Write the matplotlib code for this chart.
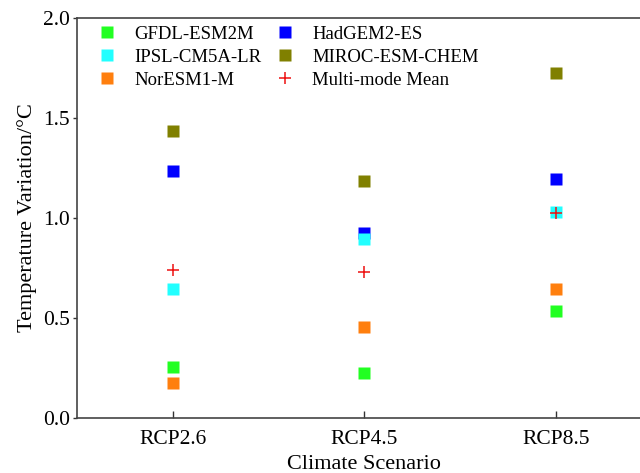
import matplotlib.pyplot as plt
import numpy as np

# ----------------------------
# Data
# ----------------------------
scenarios = ['RCP2.6', 'RCP4.5', 'RCP8.5']

gfdl = [0.255, 0.225, 0.535]
ipsl = [0.645, 0.895, 1.03]
noresm = [0.175, 0.455, 0.645]
hadgem = [1.235, 0.925, 1.195]
miroc = [1.435, 1.185, 1.725]
mean_vals = [0.74, 0.73, 1.025]

plt.rcParams['font.family'] = ['Liberation Serif', 'DejaVu Serif']

x = np.arange(1, len(scenarios) + 1)

fig = plt.figure(figsize=(6.4, 4.73), dpi=100)
ax = fig.add_axes([0.1203, 0.1163, 0.898, 0.8457])

ms = 8
ax.plot(x, gfdl, 's', color='#22ff22', ms=ms, mec='none', label='GFDL-ESM2M', zorder=3)
ax.plot(x, ipsl, 's', color='#22ffff', ms=ms, mec='none', label='IPSL-CM5A-LR', zorder=4)
ax.plot(x, noresm, 's', color='#ff7f0e', ms=ms, mec='none', label='NorESM1-M', zorder=3)
ax.plot(x, hadgem, 's', color='#0000ff', ms=ms, mec='none', label='HadGEM2-ES', zorder=3)
ax.plot(x, miroc, 's', color='#808000', ms=ms, mec='none', label='MIROC-ESM-CHEM', zorder=3)
ax.plot(x, mean_vals, '+', color='#ee1111', ms=9, mew=1.1, label='Multi-mode Mean', zorder=5)

ax.set_xlim(0.5, 3.5)
ax.set_ylim(0, 2.0)
ax.set_xticks(x)
ax.set_xticklabels(scenarios)
ax.set_yticks([0.0, 0.5, 1.0, 1.5, 2.0])
ax.set_yticklabels(['0.0', '0.5', '1.0', '1.5', '2.0'])

ax.tick_params(axis='x', direction='in', length=5, width=1, labelsize=15.5, pad=9, color='#333333')
ax.tick_params(axis='y', direction='out', length=3, width=1, labelsize=15.5, pad=2, color='#333333')

for side in ['left', 'bottom', 'top', 'right']:
    ax.spines[side].set_color('#444444')
    ax.spines[side].set_linewidth(1.2)

ax.set_xlabel('Climate Scenario', fontsize=16, labelpad=4)
ax.set_ylabel('Temperature Variation/°C', fontsize=16, labelpad=4)

ax.legend(ncol=2, frameon=False, loc='upper left', bbox_to_anchor=(0.0228, 1.0),
          fontsize=13.5, handletextpad=0.94, columnspacing=0.78, labelspacing=0.32,
          handlelength=1.0, borderaxespad=0.0)

fig.savefig('out.png', dpi=100)
